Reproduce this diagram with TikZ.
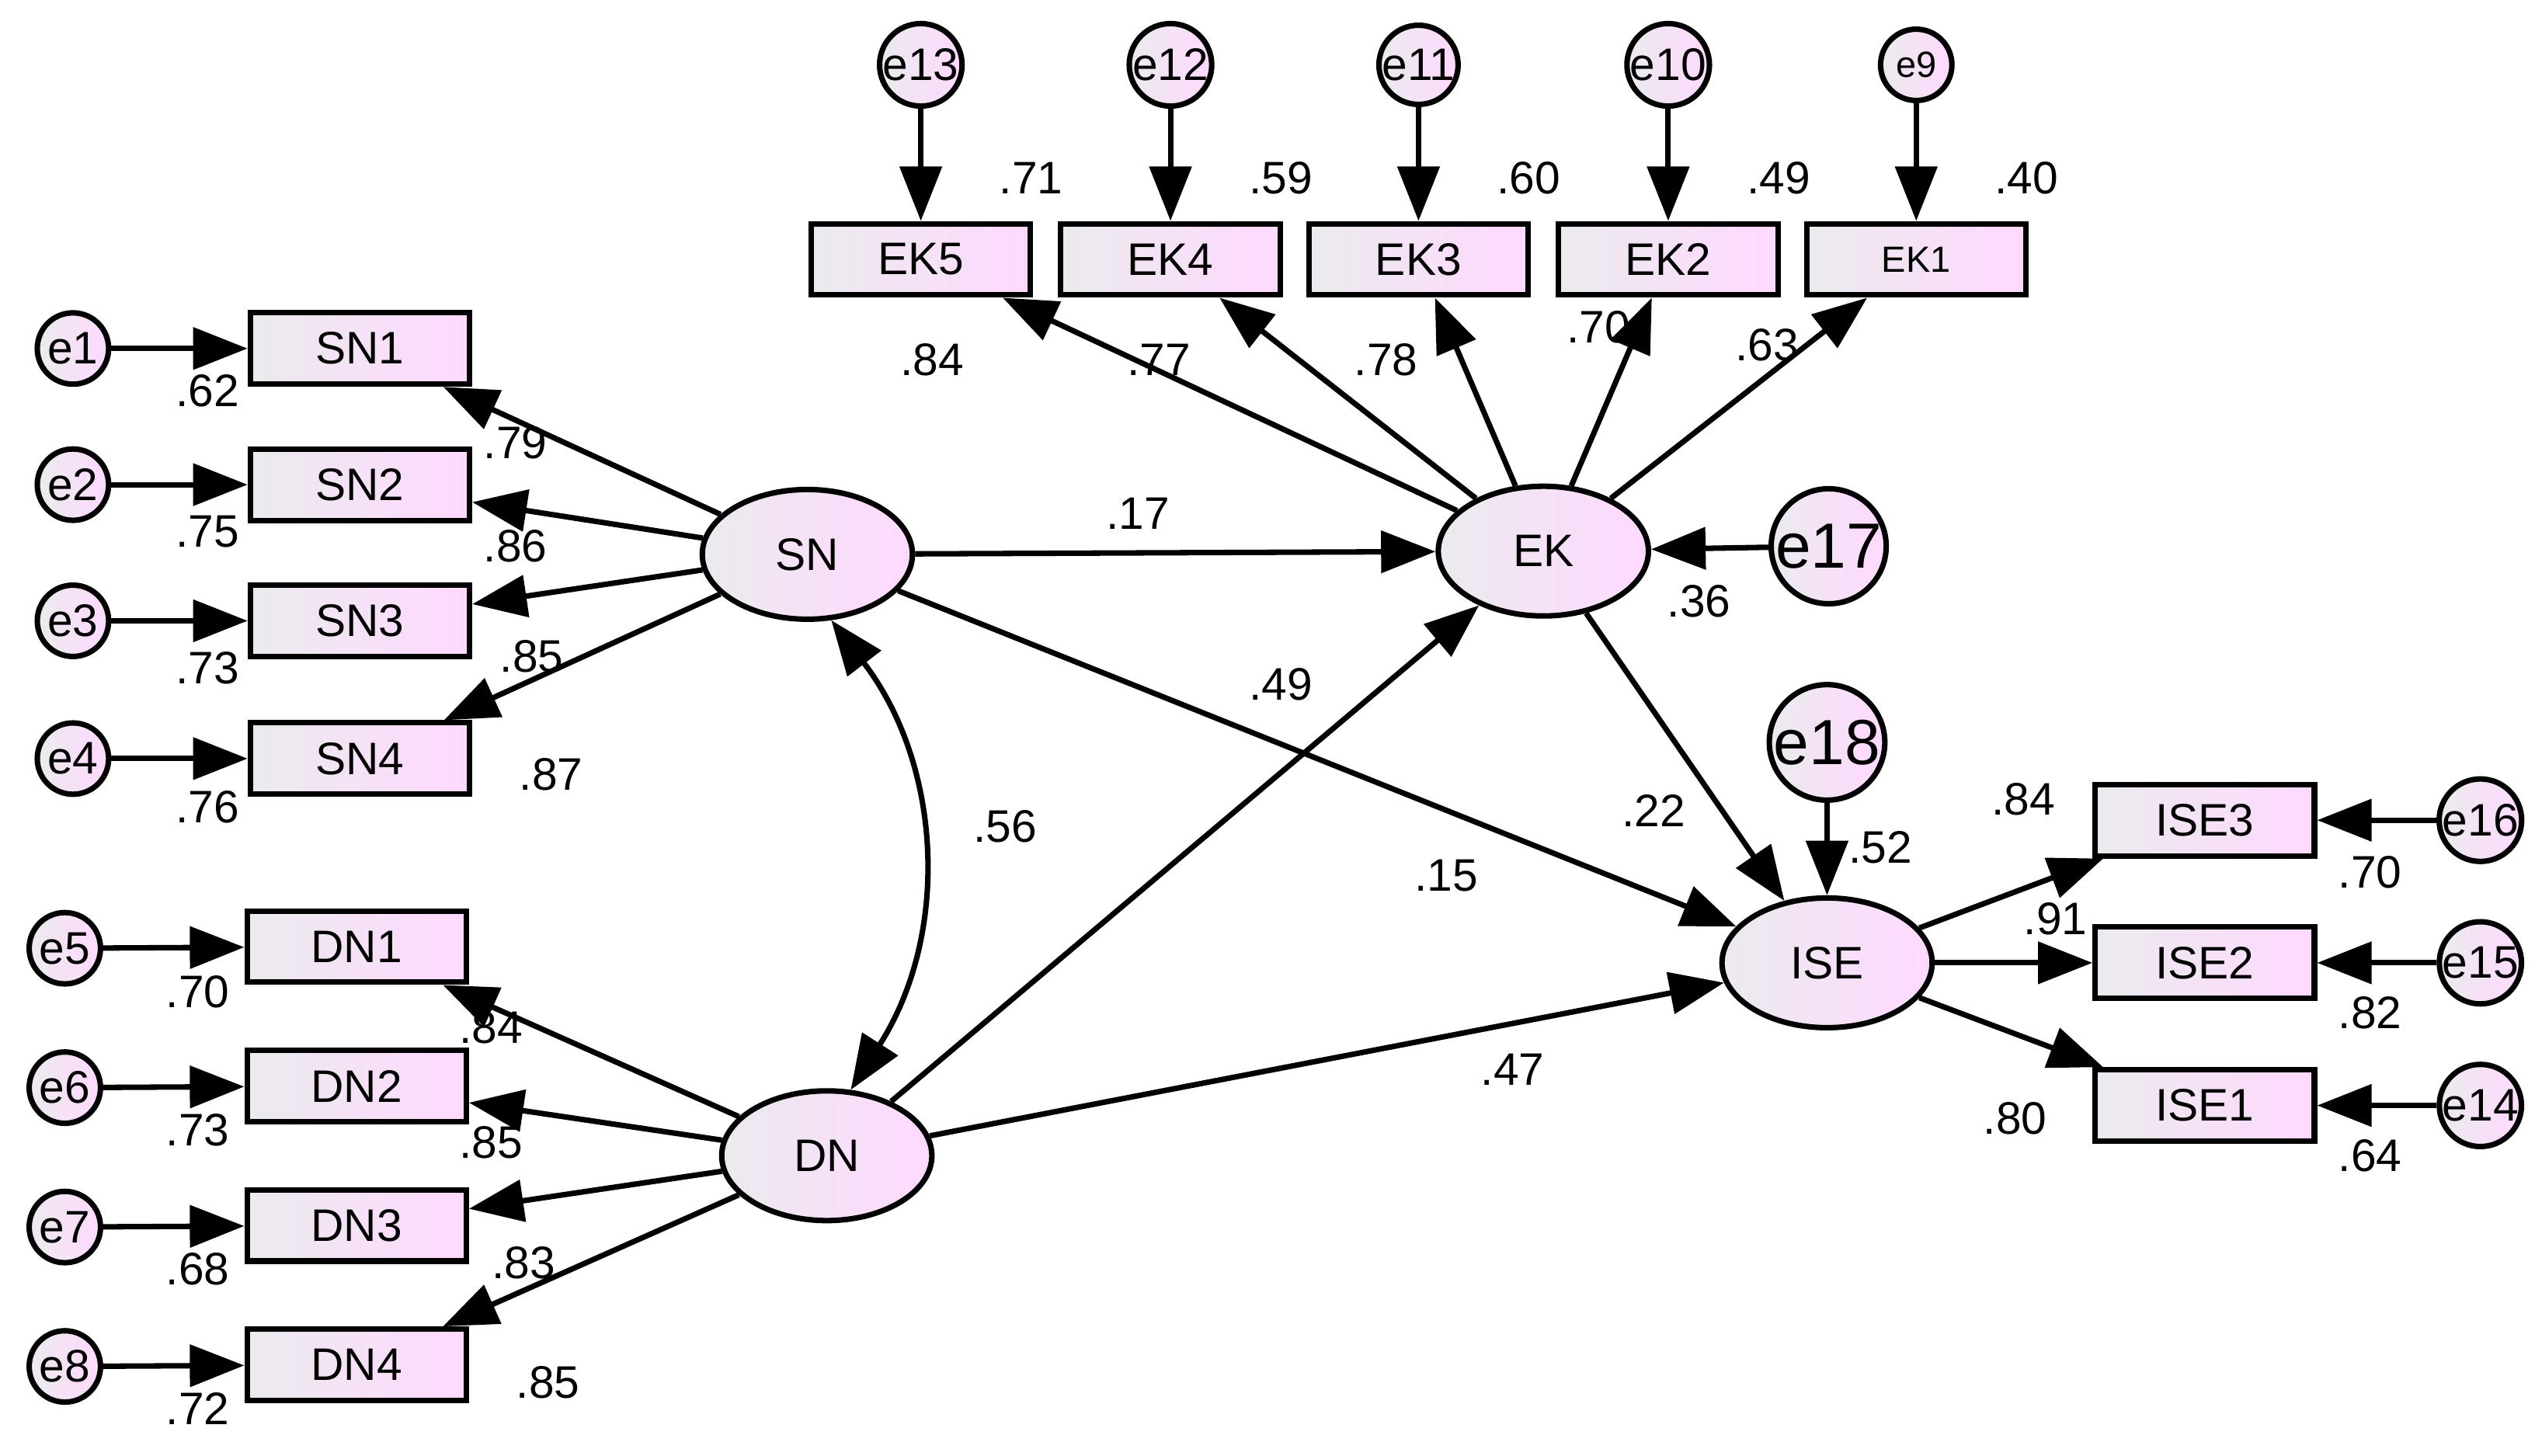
\documentclass[tikz,border=0pt]{standalone}
\usepackage{fontspec}
\setmainfont{Liberation Sans}
\usetikzlibrary{arrows.meta, shapes.geometric}
\tikzset{
    obs/.style={
        draw=black,
        shape=rectangle,
        line width=1.2pt,
        minimum width=1.69cm,
        minimum height=0.55cm,
        shading=axis, left color=blue!6!gray!15, right color=magenta!15,
        font=\fontsize{10}{12}\selectfont,
    },
    lat/.style={
        draw=black,
        shape=ellipse,
        line width=1.2pt,
        minimum width=1.62cm,
        minimum height=1.0cm,
        shading=axis, left color=blue!6!gray!15, right color=magenta!15,
        font=\fontsize{10}{12}\selectfont,
    },
    err/.style={
        draw=black,
        shape=circle,
        line width=1.2pt,
        inner sep=0pt,
        minimum size=0.55cm,
        shading=axis, left color=blue!6!gray!15, right color=magenta!15,
        font=\fontsize{10}{12}\selectfont,
    },
    bigerr/.style={err, minimum size=0.8cm, font=\fontsize{14}{16}\selectfont},
    lbl/.style={font=\fontsize{10}{12}\selectfont},
    >={Triangle[length=0.42cm, width=0.32cm]},
    every edge/.append style={draw=black,->,line width=1.2pt}
}

\begin{document}
\begin{tikzpicture}[x=0.0125cm, y=-0.0125cm]
\useasboundingbox (0,0) rectangle (1568,898);
% latent variables
\node[lat] (sn) at (498,342) {SN};
\node[lat] (dn) at (510,713) {DN};
\node[lat] (ek) at (952,340) {EK};
\node[lat] (ise) at (1127,594) {ISE};
\node[bigerr] (e17) at (1128,337) {e17};
\node[bigerr] (e18) at (1127,458) {e18};
% SN indicators
\node[obs] (sn1) at (222,215) {SN1};
\node[obs] (sn2) at (222,299) {SN2};
\node[obs] (sn3) at (222,383) {SN3};
\node[obs] (sn4) at (222,468) {SN4};
\node[err] (e1) at (45,215) {e1};
\node[err] (e2) at (45,299) {e2};
\node[err] (e3) at (45,383) {e3};
\node[err] (e4) at (45,468) {e4};
% DN indicators
\node[obs] (dn1) at (220,584) {DN1};
\node[obs] (dn2) at (220,670) {DN2};
\node[obs] (dn3) at (220,756) {DN3};
\node[obs] (dn4) at (220,842) {DN4};
\node[err] (e5) at (40,585) {e5};
\node[err] (e6) at (40,671) {e6};
\node[err] (e7) at (40,757) {e7};
\node[err] (e8) at (40,843) {e8};
% EK indicators
\node[obs] (ek5) at (568,160) {EK5};
\node[obs] (ek4) at (722,160) {EK4};
\node[obs] (ek3) at (875,160) {EK3};
\node[obs] (ek2) at (1029,160) {EK2};
\node[obs, font=\fontsize{8}{10}\selectfont] (ek1) at (1182,160) {EK1};
\node[err] (e13) at (568,40) {e13};
\node[err] (e12) at (722,40) {e12};
\node[err] (e11) at (875,40) {e11};
\node[err] (e10) at (1029,40) {e10};
\node[err, font=\fontsize{8}{10}\selectfont] (e9) at (1182,40) {e9};
% ISE indicators
\node[obs] (ise3) at (1360,506) {ISE3};
\node[obs] (ise2) at (1360,594) {ISE2};
\node[obs] (ise1) at (1360,682) {ISE1};
\node[err] (e16) at (1530,506) {e16};
\node[err] (e15) at (1530,594) {e15};
\node[err] (e14) at (1530,682) {e14};

\path[->]
    (e1) edge (sn1) (e2) edge (sn2) (e3) edge (sn3) (e4) edge (sn4)
    (e5) edge (dn1) (e6) edge (dn2) (e7) edge (dn3) (e8) edge (dn4)
    (e13) edge (ek5) (e12) edge (ek4) (e11) edge (ek3) (e10) edge (ek2) (e9) edge (ek1)
    (e16) edge (ise3) (e15) edge (ise2) (e14) edge (ise1)
    (sn) edge (sn1) (sn) edge (sn2) (sn) edge (sn3) (sn) edge (sn4)
    (dn) edge (dn1) (dn) edge (dn2) (dn) edge (dn3) (dn) edge (dn4)
    (ek) edge (ek5) (ek) edge (ek4) (ek) edge (ek3) (ek) edge (ek2) (ek) edge (ek1)
    (ise) edge (ise3) (ise) edge (ise2) (ise) edge (ise1)
    (sn) edge (ek)
    (sn) edge (ise)
    (dn) edge (ek)
    (dn) edge (ise)
    (ek) edge (ise)
    (e17) edge (ek)
    (e18) edge (ise)
    (sn.-70) edge[<->, bend left=35] (dn.70);

% estimates
\node[lbl] at (128,241) {.62};
\node[lbl] at (128,328) {.75};
\node[lbl] at (128,412) {.73};
\node[lbl] at (128,498) {.76};
\node[lbl] at (318,273) {.79};
\node[lbl] at (318,337) {.86};
\node[lbl] at (328,405) {.85};
\node[lbl] at (340,478) {.87};
\node[lbl] at (122,612) {.70};
\node[lbl] at (122,697) {.73};
\node[lbl] at (122,783) {.68};
\node[lbl] at (122,869) {.72};
\node[lbl] at (303,634) {.84};
\node[lbl] at (303,705) {.85};
\node[lbl] at (323,779) {.83};
\node[lbl] at (338,853) {.85};
\node[lbl] at (636,110) {.71};
\node[lbl] at (790,110) {.59};
\node[lbl] at (943,110) {.60};
\node[lbl] at (1097,110) {.49};
\node[lbl] at (1250,110) {.40};
\node[lbl] at (575,222) {.84};
\node[lbl] at (715,222) {.77};
\node[lbl] at (855,222) {.78};
\node[lbl] at (986,202) {.70};
\node[lbl] at (1090,213) {.63};
\node[lbl] at (702,317) {.17};
\node[lbl] at (1048,371) {.36};
\node[lbl] at (790,422) {.49};
\node[lbl] at (620,510) {.56};
\node[lbl] at (892,540) {.15};
\node[lbl] at (1020,500) {.22};
\node[lbl] at (1160,523) {.52};
\node[lbl] at (933,660) {.47};
\node[lbl] at (1248,493) {.84};
\node[lbl] at (1268,567) {.91};
\node[lbl] at (1243,690) {.80};
\node[lbl] at (1462,538) {.70};
\node[lbl] at (1462,625) {.82};
\node[lbl] at (1462,713) {.64};
\end{tikzpicture}
\end{document}
